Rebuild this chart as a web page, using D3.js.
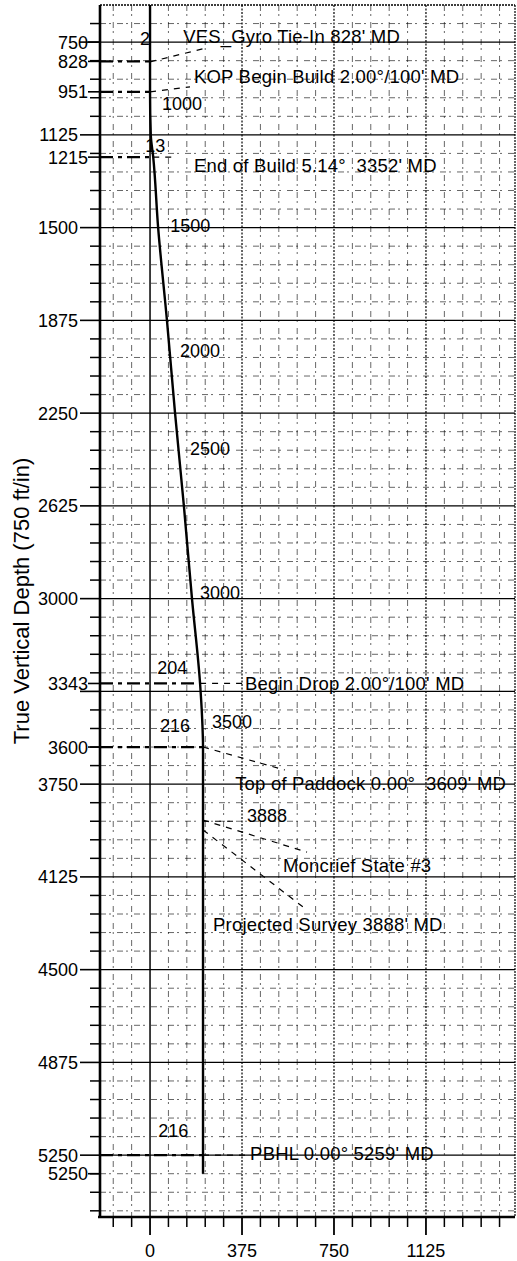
<!DOCTYPE html>
<html><head><meta charset="utf-8">
<script src="https://cdn.jsdelivr.net/npm/d3@7"></script>
<style>
body{margin:0;background:#fff}
svg{display:block}
text{font-family:"Liberation Sans",Arial,Helvetica,sans-serif;fill:#000;white-space:pre}
</style>
</head><body>
<svg id="c" width="517" height="1261"></svg>
<script>
// ---------- data ----------
const yMajorTicks  = [750,1125,1500,1875,2250,2625,3000,3375,3750,4125,4500,4875,5250];
const yMajorLabels = ["","1125","1500","1875","2250","2625","3000","","3750","4125","4500","4875","5250"];
const ySpecialTicks  = [750,828,951,1215,3343,3600,5325];
const ySpecialLabels = ["750","828","951","1215","3343","3600","5250"];
const xMajorTicks  = [0,375,750,1125];
const xMajorLabels = ["0","375","750","1125"];

// well path (vertical section ft, TVD ft)
const pathVS  = [0,   0,   3,    13,   33,   69,   102,  138,  171,  204,  212,  216,  216];
const pathTVD = [600, 951, 1125, 1215, 1500, 1875, 2250, 2625, 3000, 3343, 3475, 3600, 5325];

// annotation dashed markers from the axis to the path (TVD, VS at path)
const markTVD = [828, 951, 1215, 3343, 3600, 5250];
const markVS  = [0,   0,   13,   204,  216,  216];

// annotation texts (anchor VS, baseline TVD)
const annoText = ["VES_Gyro Tie-In 828' MD","KOP Begin Build 2.00°/100' MD","End of Build 5.14°  3352' MD",
                  "Begin Drop 2.00°/100' MD","Top of Paddock 0.00°  3609' MD","Moncrief State #3",
                  "Projected Survey 3888' MD","PBHL 0.00° 5259' MD"];
const annoVS  = [135, 179, 179, 387, 347, 542, 257, 408];
const annoTVD = [754, 915, 1275, 3369, 3774, 4105, 4344, 5271];

// labels along the path: measured depths and displacements
const mdText = ["1000","1500","2000","2500","3000","3500","3888"];
const mdVS   = [49,    82,    122,   163,   204,   253,   395];
const mdTVD  = [1024,  1518,  2023,  2420,  3000,  3523,  3903];
const dispText = ["2","13","204","216","216"];
const dispVS   = [-41, -20, 29, 41, 33];
const dispTVD  = [762, 1194, 3305, 3539, 5178];

// leader lines [vs1,tvd1,vs2,tvd2]
const leaders = [
  [0,830,216,777],
  [0,951,163,931],
  [13,1215,110,1215],
  [204,3343,387,3343],
  [216,3600,550,3693],
  [216,3900,360,3900],
  [216,3895,640,4025],
  [216,3935,640,4259],
  [216,5250,408,5250]
];

// ---------- drawing ----------
const svg = d3.select("#c");
const x = d3.scaleLinear().domain([-204, 1488]).range([100, 515]);
const y = d3.scaleLinear().domain([600, 5500]).range([5, 1217]);
const X0 = x.range()[0], X1 = x.range()[1], Y0 = y.range()[0], Y1 = y.range()[1];

const minorX = d3.range(-150, 1490, 75).filter(v => v % 375 !== 0);
const minorY = d3.range(675, 5500, 75).filter(v => v % 375 !== 0);

const g = svg.append("g");

// minor grid
g.selectAll(".mx").data(minorX).join("line")
  .attr("x1", d => x(d)).attr("x2", d => x(d)).attr("y1", Y0).attr("y2", Y1)
  .attr("stroke", "#000").attr("stroke-width", 1).attr("stroke-dasharray", "6,3,2,6")
  .attr("stroke-opacity", 0.6);
g.selectAll(".my").data(minorY).join("line")
  .attr("y1", d => y(d)).attr("y2", d => y(d)).attr("x1", X0).attr("x2", X1)
  .attr("stroke", "#000").attr("stroke-width", 1).attr("stroke-dasharray", "6,3,2,6")
  .attr("stroke-opacity", 0.6);

// major grid
g.selectAll(".gx").data(xMajorTicks).join("line")
  .attr("x1", d => x(d)).attr("x2", d => x(d)).attr("y1", Y0).attr("y2", Y1)
  .attr("stroke", "#000").attr("stroke-width", d => d === 0 ? 1.5 : 1.2)
  .attr("stroke-dasharray", d => d === 0 ? null : "2,1.5");
g.selectAll(".gy").data(yMajorTicks).join("line")
  .attr("y1", d => y(d)).attr("y2", d => y(d)).attr("x1", X0).attr("x2", X1)
  .attr("stroke", "#000").attr("stroke-width", 1.2);

// borders
svg.append("line").attr("x1", X0).attr("x2", X1).attr("y1", Y0).attr("y2", Y0)
  .attr("stroke", "#000").attr("stroke-width", 1.5).attr("stroke-dasharray", "2,1");
svg.append("line").attr("x1", X1).attr("x2", X1).attr("y1", Y0).attr("y2", Y1)
  .attr("stroke", "#000").attr("stroke-width", 1.2).attr("stroke-dasharray", "2,1");

// heavy dashed markers
svg.selectAll(".mk").data(markTVD).join("line")
  .attr("x1", X0).attr("x2", (d, i) => x(markVS[i]))
  .attr("y1", d => y(d)).attr("y2", d => y(d))
  .attr("stroke", "#000").attr("stroke-width", 2.2).attr("stroke-dasharray", "13,5,4,5");

// leader lines
svg.selectAll(".ld").data(leaders).join("line")
  .attr("x1", d => x(d[0])).attr("y1", d => y(d[1]))
  .attr("x2", d => x(d[2])).attr("y2", d => y(d[3]))
  .attr("stroke", "#000").attr("stroke-width", 1.2).attr("stroke-dasharray", "6,6");

// well path
const line = d3.line().x(d => x(d[0])).y(d => y(d[1])).curve(d3.curveMonotoneY);
svg.append("path").datum(pathVS.map((v, i) => [v, pathTVD[i]]))
  .attr("d", line).attr("fill", "none").attr("stroke", "#000").attr("stroke-width", 2.4);

// axes
const yAxisG = svg.append("g");
yAxisG.append("line").attr("x1", X0).attr("x2", X0).attr("y1", Y0).attr("y2", Y1)
  .attr("stroke", "#000").attr("stroke-width", 2.6);
yAxisG.selectAll(".ymn").data(minorY).join("line")
  .attr("x1", X0 - 10).attr("x2", X0).attr("y1", d => y(d)).attr("y2", d => y(d))
  .attr("stroke", "#000").attr("stroke-width", 1.5);
yAxisG.selectAll(".ymj").data(yMajorTicks).join("line")
  .attr("x1", X0 - 20).attr("x2", X0).attr("y1", d => y(d)).attr("y2", d => y(d))
  .attr("stroke", "#000").attr("stroke-width", 1.6);
yAxisG.selectAll(".yml").data(yMajorTicks).join("text")
  .attr("x", X0 - 22).attr("y", d => y(d)).attr("dy", "0.36em")
  .attr("text-anchor", "end").attr("font-size", 18)
  .text((d, i) => yMajorLabels[i]);
yAxisG.selectAll(".ysp").data(ySpecialTicks).join("line")
  .attr("x1", X0 - 12).attr("x2", X0).attr("y1", d => y(d)).attr("y2", d => y(d))
  .attr("stroke", "#000").attr("stroke-width", 1.6);
yAxisG.selectAll(".ysl").data(ySpecialTicks).join("text")
  .attr("x", X0 - 12).attr("y", d => y(d)).attr("dy", "0.36em")
  .attr("text-anchor", "end").attr("font-size", 18)
  .text((d, i) => ySpecialLabels[i]);

const xAxisG = svg.append("g");
xAxisG.append("line").attr("x1", X0 - 2).attr("x2", X1).attr("y1", Y1).attr("y2", Y1)
  .attr("stroke", "#000").attr("stroke-width", 2.6);
xAxisG.selectAll(".xmn").data(minorX).join("line")
  .attr("x1", d => x(d)).attr("x2", d => x(d)).attr("y1", Y1).attr("y2", Y1 + 10)
  .attr("stroke", "#000").attr("stroke-width", 1.5);
xAxisG.selectAll(".xmj").data(xMajorTicks).join("line")
  .attr("x1", d => x(d)).attr("x2", d => x(d)).attr("y1", Y1).attr("y2", Y1 + 18)
  .attr("stroke", "#000").attr("stroke-width", 1.8);
xAxisG.selectAll(".xml").data(xMajorTicks).join("text")
  .attr("x", d => x(d)).attr("y", Y1 + 40)
  .attr("text-anchor", "middle").attr("font-size", 18)
  .text((d, i) => xMajorLabels[i]);

// y axis title
svg.append("text").attr("transform", `translate(29,${(Y0 + Y1) / 2 - 10}) rotate(-90)`)
  .attr("text-anchor", "middle").attr("font-size", 22)
  .text("True Vertical Depth (750 ft/in)");

// annotation texts
svg.selectAll(".an").data(annoText).join("text")
  .attr("x", (d, i) => x(annoVS[i])).attr("y", (d, i) => y(annoTVD[i]))
  .attr("font-size", 18.5).attr("letter-spacing", 0.2).text(d => d);
svg.selectAll(".md").data(mdText).join("text")
  .attr("x", (d, i) => x(mdVS[i])).attr("y", (d, i) => y(mdTVD[i]))
  .attr("font-size", 18).text(d => d);
svg.selectAll(".dp").data(dispText).join("text")
  .attr("x", (d, i) => x(dispVS[i])).attr("y", (d, i) => y(dispTVD[i]))
  .attr("font-size", 18).text(d => d);
</script>
</body></html>
